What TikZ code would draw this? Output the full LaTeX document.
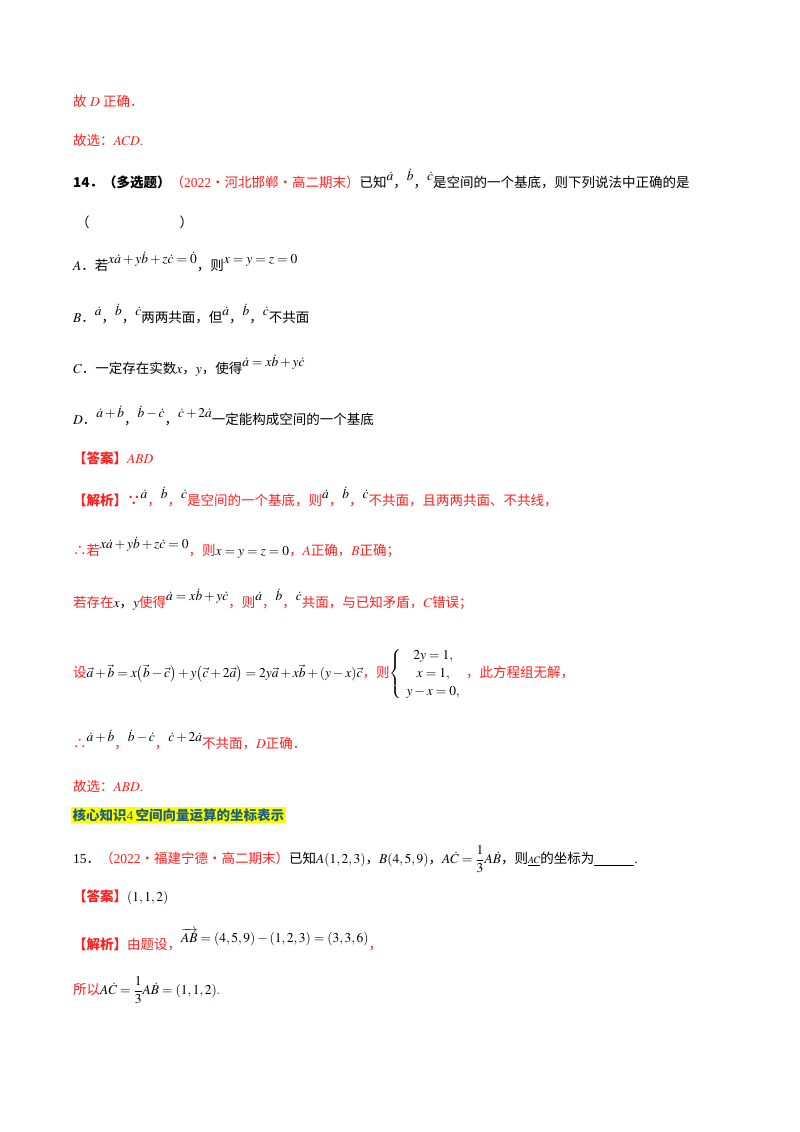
\documentclass[tikz,border=0pt]{standalone}
\usepackage{amsmath}
\usepackage{mathptmx}
\usepackage{fontspec}
\setmainfont{Liberation Serif}
\newfontfamily\cjk{Noto Sans CJK SC}
\definecolor{rd}{HTML}{FF2020}
\definecolor{bl}{HTML}{1F5F7A}
\definecolor{hl}{HTML}{FFFF00}
\newcommand\up[1]{\raisebox{7pt}{#1}}
\begin{document}
\begin{tikzpicture}[x=1pt,y=-1pt,
  ln/.style={anchor=west,inner sep=0pt,font=\fontsize{13.5}{16}\selectfont}]
\useasboundingbox[fill=white] (0,0) rectangle (800,1132);
\node[ln,text=rd] (l1) at (73,101) {{\cjk 故} $D$ {\cjk 正确．}};
\node[ln,text=rd] (l2) at (73,140) {{\cjk 故选：}$ACD$.};
\node[ln] (l3) at (73,179) {{\cjk\bfseries 14．（多选题）}\textcolor{rd}{{\cjk（}2022{\cjk ·河北邯郸·高二期末）}}{\cjk 已知}\up{$\dot a$}{\cjk ，}\up{$\dot b$}{\cjk ，}\up{$\dot c$}{\cjk 是空间的一个基底，则下列说法中正确的是}};
\node[ln] (l4) at (76,222) {{\cjk （}\hspace{90pt}{\cjk ）}};
\node[ln] (l5) at (73,262) {$A${\cjk ．若}\up{$x\dot a+y\dot b+z\dot c=\dot 0$}{\cjk ，则}\up{$x=y=z=0$}};
\node[ln] (l6) at (73,314) {$B${\cjk ．}\up{$\dot a$}{\cjk ，}\up{$\dot b$}{\cjk ，}\up{$\dot c$}{\cjk 两两共面，但}\up{$\dot a$}{\cjk ，}\up{$\dot b$}{\cjk ，}\up{$\dot c$}{\cjk 不共面}};
\node[ln] (l7) at (73,366) {$C${\cjk ．一定存在实数}$x${\cjk ，}$y${\cjk ，使得}\up{$\dot a=x\dot b+y\dot c$}};
\node[ln] (l8) at (73,416) {$D${\cjk ．}\up{$\dot a+\dot b$}{\cjk ，}\up{$\dot b-\dot c$}{\cjk ，}\up{$\dot c+2\dot a$}{\cjk 一定能构成空间的一个基底}};
\node[ln,text=rd] (l9) at (73,458) {{\cjk\bfseries 【答案】}$ABD$};
\node[ln,text=rd] (l10) at (73,497) {{\cjk\bfseries 【解析】∵}\up{\textcolor{black}{$\dot a$}}{\cjk ，}\up{\textcolor{black}{$\dot b$}}{\cjk ，}\up{\textcolor{black}{$\dot c$}}{\cjk 是空间的一个基底，则}\up{\textcolor{black}{$\dot a$}}{\cjk ，}\up{\textcolor{black}{$\dot b$}}{\cjk ，}\up{\textcolor{black}{$\dot c$}}{\cjk 不共面，且两两共面、不共线，}};
\node[ln,text=rd] (l11) at (73,548) {{\cjk ∴若}\up{\textcolor{black}{$x\dot a+y\dot b+z\dot c=0$}}{\cjk ，则}\textcolor{black}{$x=y=z=0$}{\cjk ，}$A${\cjk 正确，}$B${\cjk 正确；}};
\node[ln,text=rd] (l12) at (73,600) {{\cjk 若存在}\textcolor{black}{$x${\cjk ，}$y$}{\cjk 使得}\up{\textcolor{black}{$\dot a=x\dot b+y\dot c$}}{\cjk ，则}\up{\textcolor{black}{$\dot a$}}{\cjk ，}\up{\textcolor{black}{$\dot b$}}{\cjk ，}\up{\textcolor{black}{$\dot c$}}{\cjk 共面，与已知矛盾，}$C${\cjk 错误；}};
\node[ln,text=rd] (l13) at (73,674) {{\cjk 设}\textcolor{black}{$\vec a+\vec b=x\bigl(\vec b-\vec c\bigr)+y\bigl(\vec c+2\vec a\bigr)=2y\vec a+x\vec b+(y-x)\vec c$}{\cjk ，则}\textcolor{black}{$\left\{\begin{array}{c}2y=1,\\[2pt] x=1,\\[2pt] y-x=0,\end{array}\right.$}{\cjk ，此方程组无解，}};
\node[ln,text=rd] (l14) at (73,740) {{\cjk ∴}\up{\textcolor{black}{$\dot a+\dot b$}}{\cjk ，}\up{\textcolor{black}{$\dot b-\dot c$}}{\cjk ，}\up{\textcolor{black}{$\dot c+2\dot a$}}{\cjk 不共面，}$D${\cjk 正确．}};
\node[ln,text=rd] (l15) at (73,786) {{\cjk 故选：}$ABD$.};
\node[ln,fill=hl,inner sep=1.5pt,text=bl] (l16) at (71,815) {{\cjk\bfseries 核心知识}4\,{\cjk\bfseries 空间向量运算的坐标表示}};
\node[ln] (l17) at (73,859) {15{\cjk ．}\textcolor{rd}{{\cjk（}2022{\cjk ·福建宁德·高二期末）}}{\cjk 已知}$A(1,2,3)${\cjk ，}$B(4,5,9)${\cjk ，}$A\dot C=\dfrac13A\dot B${\cjk ，则}$\underline{\scriptstyle AC}${\cjk 的坐标为}\rule[-2pt]{40pt}{0.5pt}.};
\node[ln,text=rd] (l18) at (73,897) {{\cjk\bfseries 【答案】}\textcolor{black}{$(1,1,2)$}};
\node[ln,text=rd] (l19) at (73,940) {{\cjk\bfseries 【解析】}{\cjk 由题设，}\up{\textcolor{black}{$\overrightarrow{AB}=(4,5,9)-(1,2,3)=(3,3,6)$}}{\cjk ，}};
\node[ln,text=rd] (l20) at (73,990) {{\cjk 所以}\textcolor{black}{$A\dot C=\dfrac13A\dot B=(1,1,2)$}.};
\end{tikzpicture}
\end{document}
